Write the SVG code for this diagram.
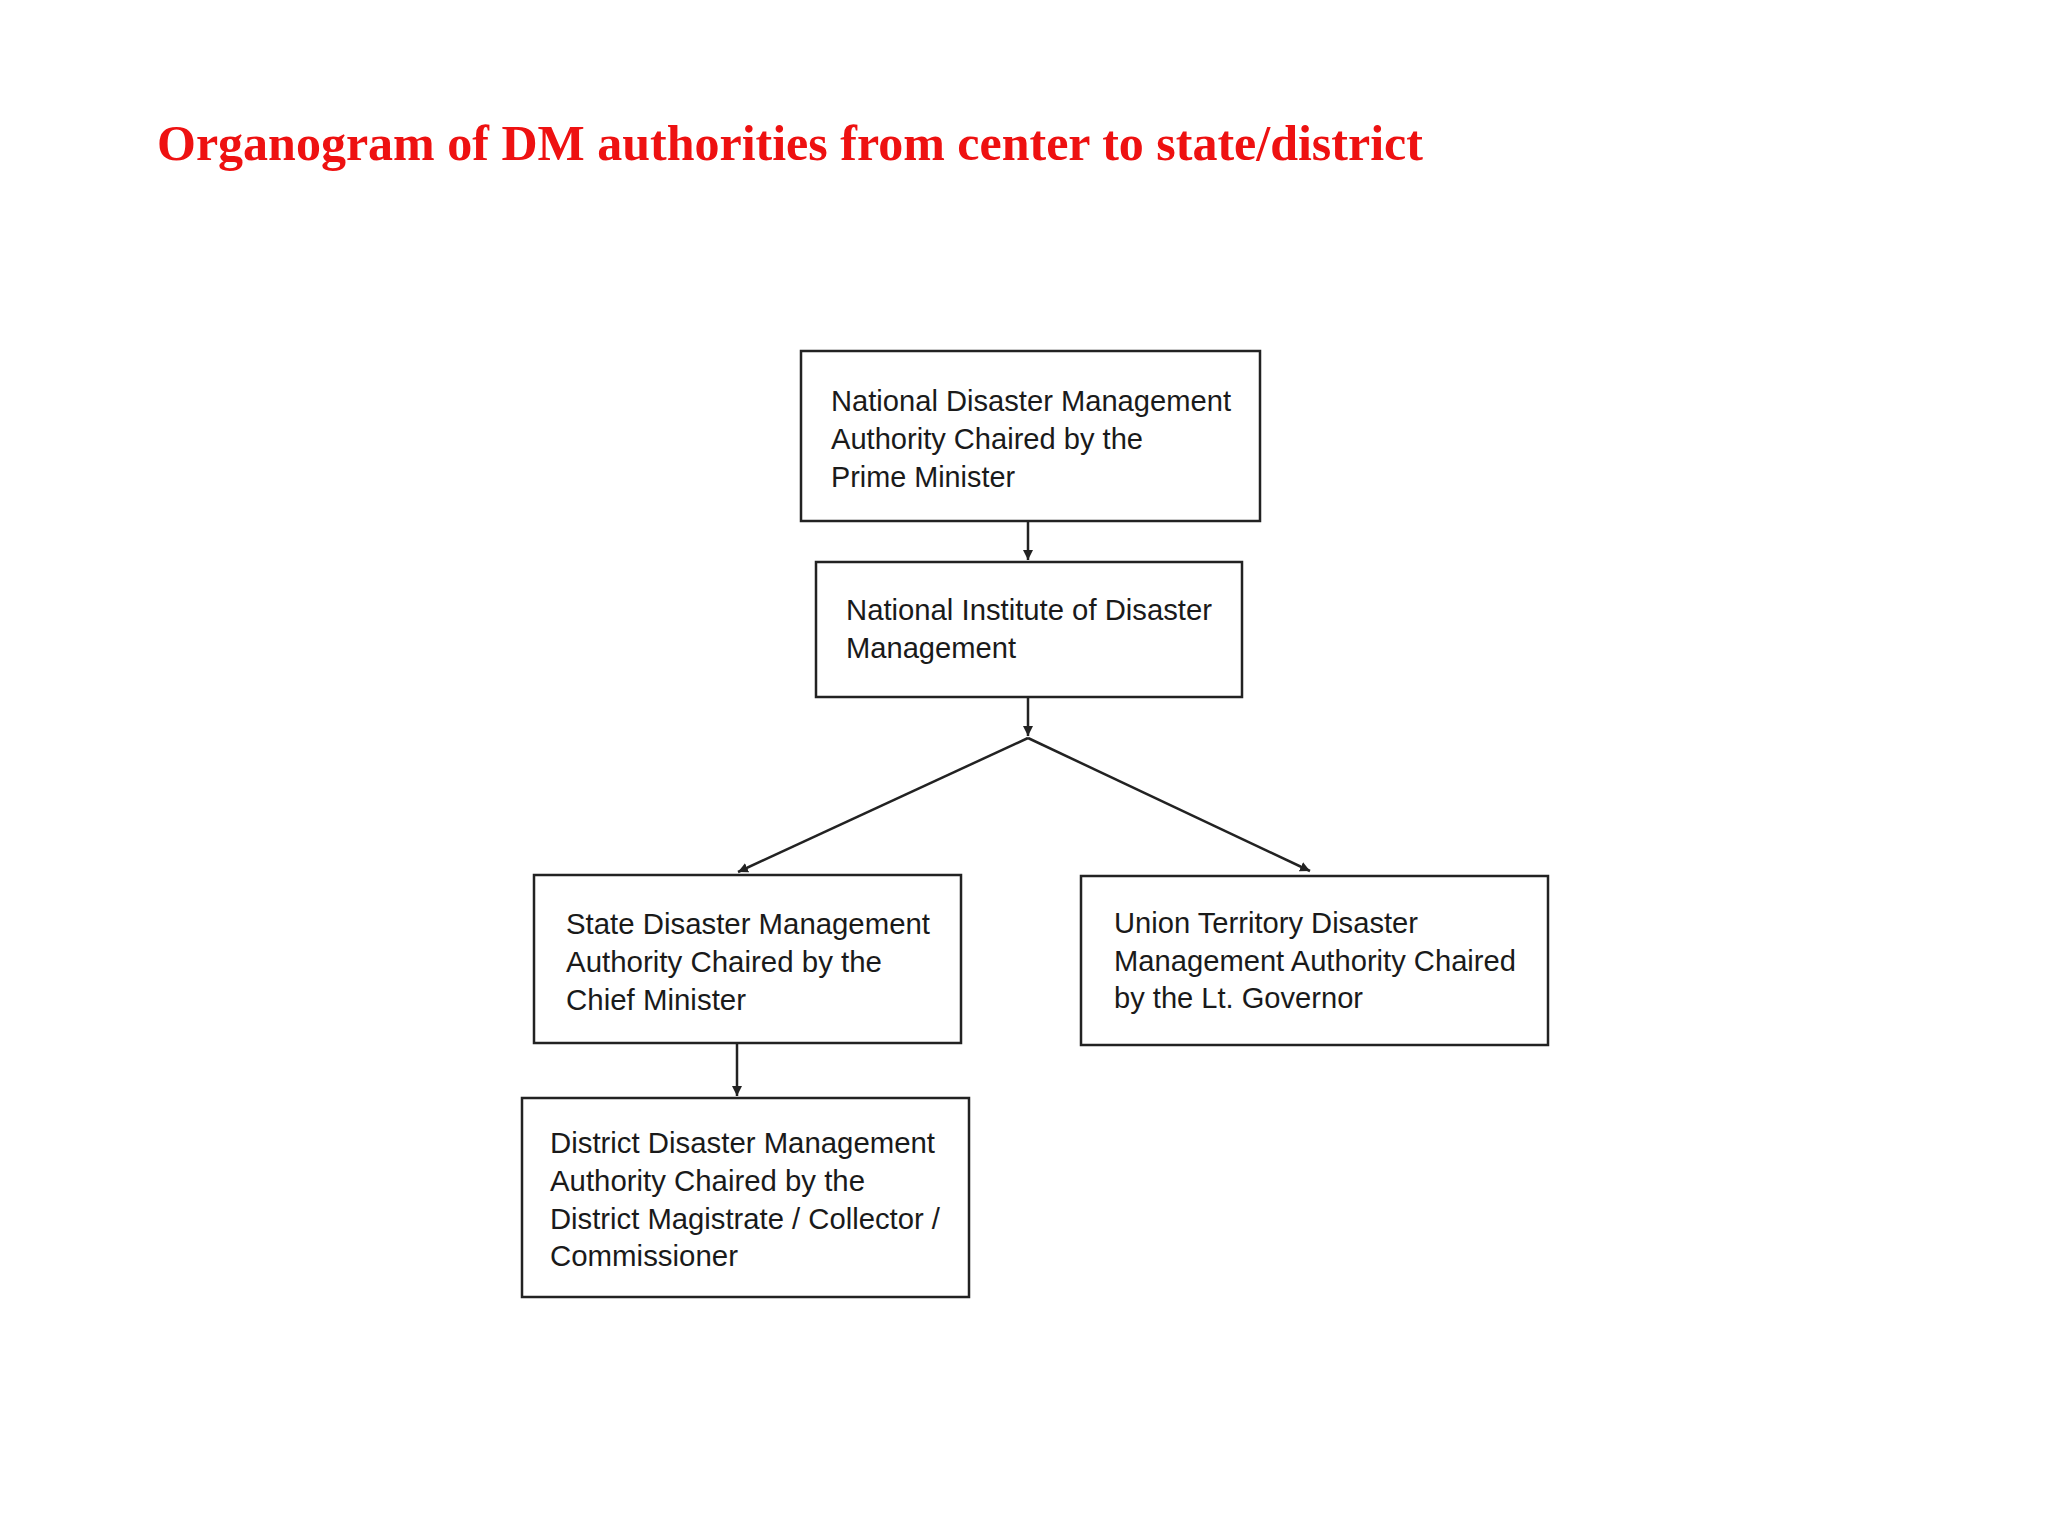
<svg xmlns="http://www.w3.org/2000/svg" width="2048" height="1536" viewBox="0 0 2048 1536">
<style>
.box{fill:#fff;stroke:#222;stroke-width:2.5}
.t{font-family:"Liberation Sans",Arial,sans-serif;font-size:30px;fill:#1a1a1a}
.c{stroke:#222;stroke-width:2.5;fill:none}
</style>
<defs><marker id="a" markerWidth="12" markerHeight="12" refX="10" refY="5" orient="auto" markerUnits="userSpaceOnUse"><path d="M0,0 L10,5 L0,10 z" fill="#222"/></marker></defs>
<rect width="2048" height="1536" fill="#fff"/>
<text x="157" y="160" font-family="Liberation Serif,'Times New Roman',serif" font-weight="bold" font-size="50" fill="#ee1111">Organogram of DM authorities from center to state/district</text>
<g id="connectors">
<line class="c" x1="1028" y1="521" x2="1028" y2="560" marker-end="url(#a)"/>
<line class="c" x1="1028" y1="697" x2="1028" y2="736" marker-end="url(#a)"/>
<line class="c" x1="1028" y1="738" x2="738" y2="872" marker-end="url(#a)"/>
<line class="c" x1="1028" y1="738" x2="1310" y2="871" marker-end="url(#a)"/>
<line class="c" x1="737" y1="1043" x2="737" y2="1096" marker-end="url(#a)"/>
</g>
<g id="n1"><rect class="box" x="801" y="351" width="459" height="170"/>
<text class="t" x="831" y="411" textLength="400" lengthAdjust="spacingAndGlyphs">National Disaster Management</text>
<text class="t" x="831" y="449" textLength="312" lengthAdjust="spacingAndGlyphs">Authority Chaired by the</text>
<text class="t" x="831" y="487" textLength="184" lengthAdjust="spacingAndGlyphs">Prime Minister</text></g>
<g id="n2"><rect class="box" x="816" y="562" width="426" height="135"/>
<text class="t" x="846" y="620" textLength="366" lengthAdjust="spacingAndGlyphs">National Institute of Disaster</text>
<text class="t" x="846" y="658" textLength="170" lengthAdjust="spacingAndGlyphs">Management</text></g>
<g id="n3"><rect class="box" x="534" y="875" width="427" height="168"/>
<text class="t" x="566" y="934" textLength="364" lengthAdjust="spacingAndGlyphs">State Disaster Management</text>
<text class="t" x="566" y="972" textLength="316" lengthAdjust="spacingAndGlyphs">Authority Chaired by the</text>
<text class="t" x="566" y="1010" textLength="180" lengthAdjust="spacingAndGlyphs">Chief Minister</text></g>
<g id="n4"><rect class="box" x="1081" y="876" width="467" height="169"/>
<text class="t" x="1114" y="933" textLength="304" lengthAdjust="spacingAndGlyphs">Union Territory Disaster</text>
<text class="t" x="1114" y="971" textLength="402" lengthAdjust="spacingAndGlyphs">Management Authority Chaired</text>
<text class="t" x="1114" y="1008" textLength="249" lengthAdjust="spacingAndGlyphs">by the Lt. Governor</text></g>
<g id="n5"><rect class="box" x="522" y="1098" width="447" height="199"/>
<text class="t" x="550" y="1153" textLength="385" lengthAdjust="spacingAndGlyphs">District Disaster Management</text>
<text class="t" x="550" y="1191" textLength="315" lengthAdjust="spacingAndGlyphs">Authority Chaired by the</text>
<text class="t" x="550" y="1229" textLength="390" lengthAdjust="spacingAndGlyphs">District Magistrate / Collector /</text>
<text class="t" x="550" y="1266" textLength="188" lengthAdjust="spacingAndGlyphs">Commissioner</text></g>
</svg>
